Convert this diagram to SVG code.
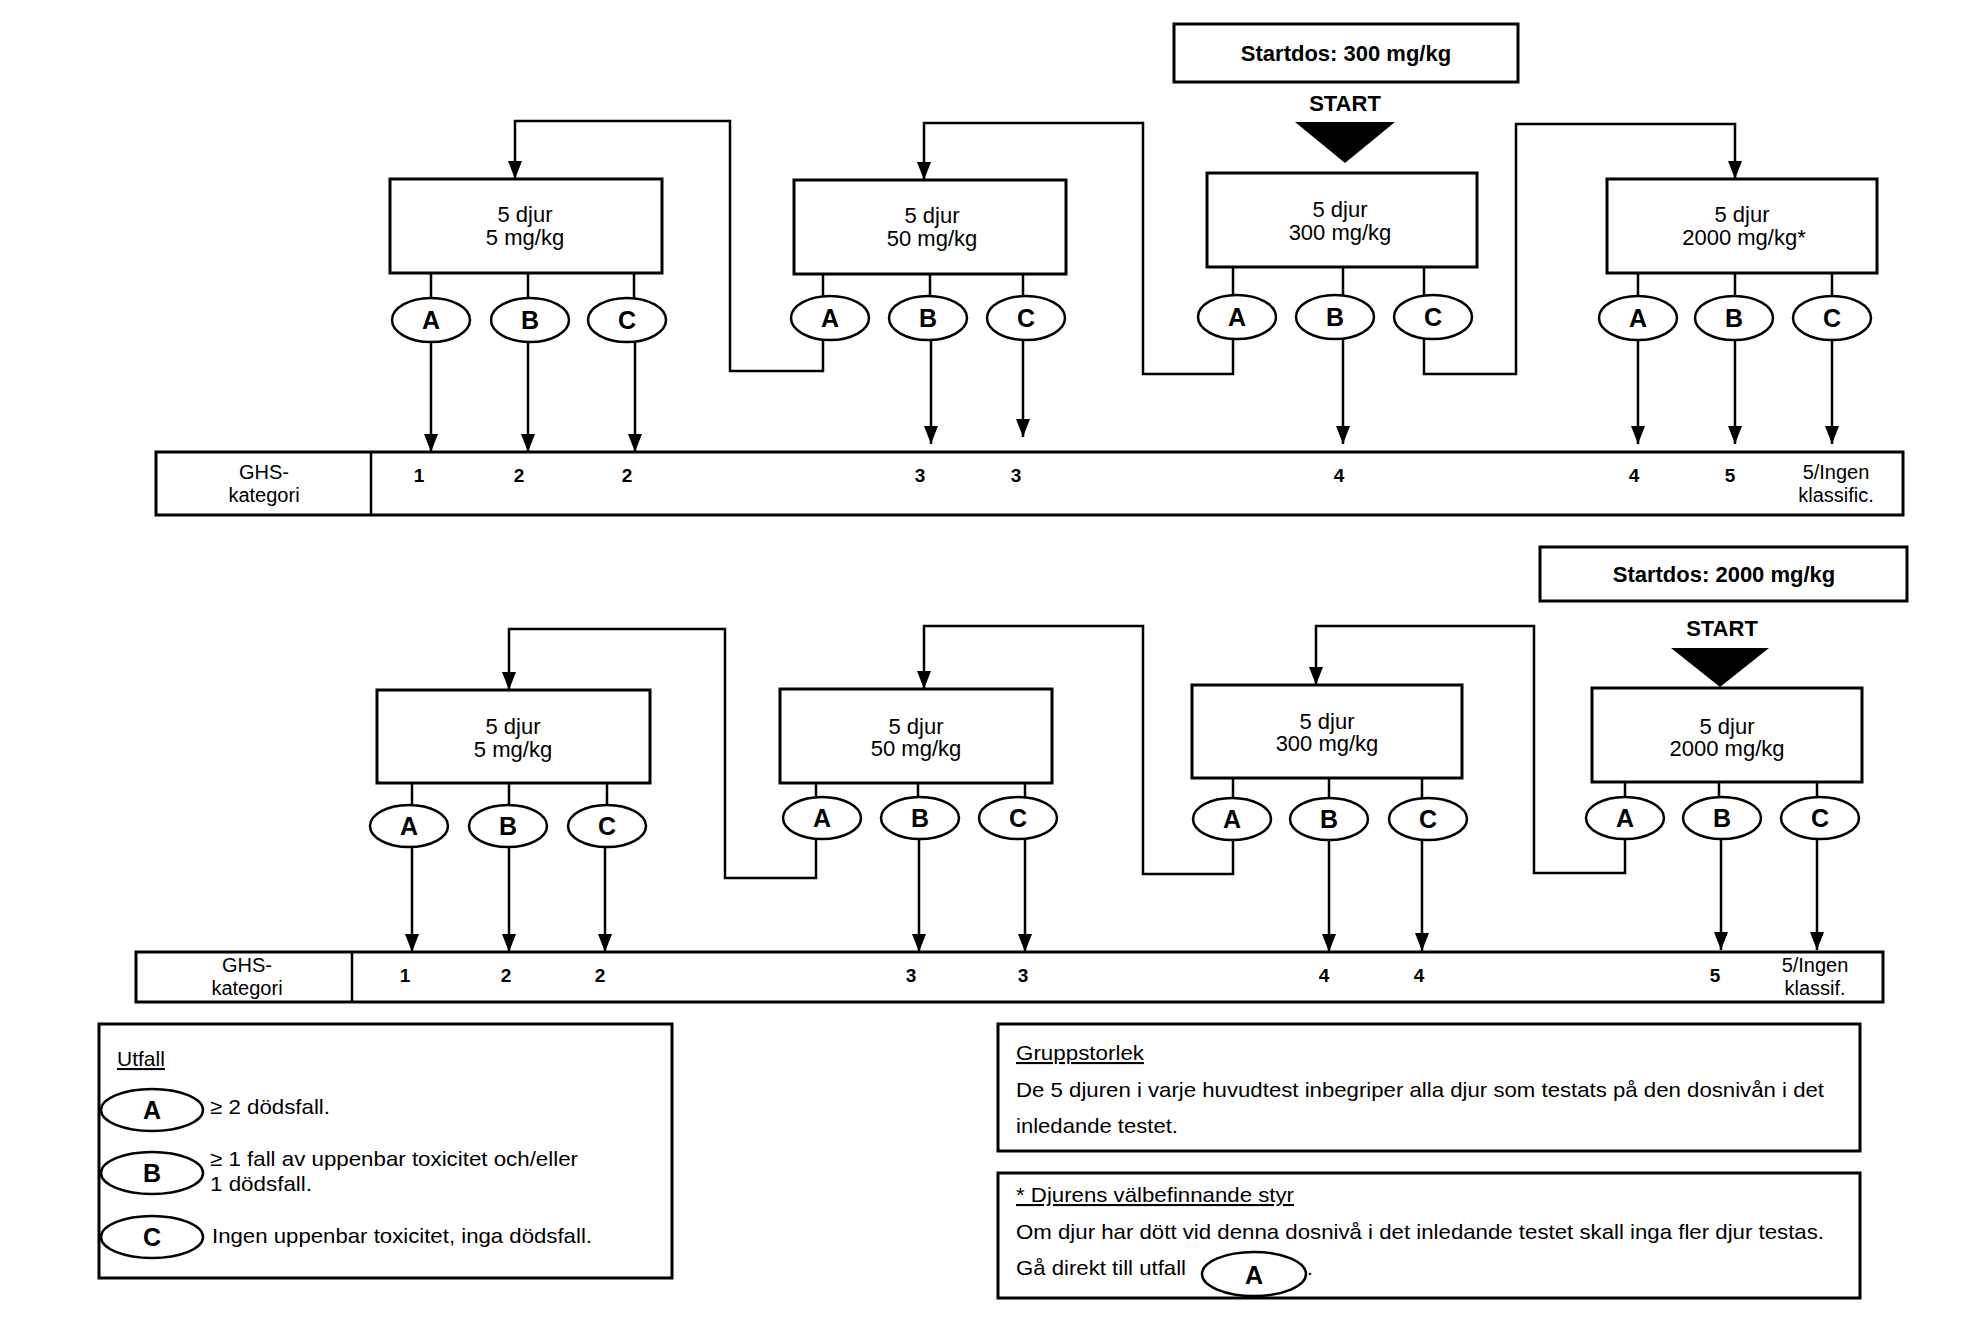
<svg xmlns="http://www.w3.org/2000/svg" width="1969" height="1323" viewBox="0 0 1969 1323">
<style>
.box{fill:#fff;stroke:#000;stroke-width:3}
.ell{fill:#fff;stroke:#000;stroke-width:2.5}
.ln{fill:none;stroke:#000;stroke-width:2.5}
.t{font-family:"Liberation Sans",Arial,sans-serif;font-size:22px;fill:#000;text-anchor:middle}
.s{font-size:20px}
.lt{font-family:"Liberation Sans",Arial,sans-serif;font-size:21px;fill:#000}
.b{font-weight:bold}
.num{font-family:"Liberation Sans",Arial,sans-serif;font-size:19px;font-weight:bold;fill:#000;text-anchor:middle}
.let{font-family:"Liberation Sans",Arial,sans-serif;font-size:25px;font-weight:bold;fill:#000;text-anchor:middle}
</style>
<defs>
<marker id="ah" viewBox="0 0 18 14" refX="18" refY="7" markerWidth="18" markerHeight="14" markerUnits="userSpaceOnUse" orient="auto">
<path d="M0,0 L18,7 L0,14 z" fill="#000"/>
</marker>
</defs>
<rect width="1969" height="1323" fill="#fff"/>

<!-- ===== TOP SECTION ===== -->
<g id="startdos300">
<rect class="box" x="1174" y="24" width="344" height="58"/>
<text class="t b" x="1346" y="61">Startdos: 300 mg/kg</text>
</g>
<g id="start1">
<text class="t b" x="1345" y="111" font-size="21">START</text>
<polygon points="1295,122 1395,122 1345,163" fill="#000"/>
</g>

<g id="connectors-top">
<path class="ln" d="M431,273V298 M528,273V298 M634,273V298"/>
<path class="ln" d="M823,274V296 M930,274V296 M1023,274V296"/>
<path class="ln" d="M1233,267V295 M1343,267V295 M1424,267V295"/>
<path class="ln" d="M1638,273V296 M1735,273V296 M1832,273V296"/>
<path class="ln" d="M431,342V452" marker-end="url(#ah)"/>
<path class="ln" d="M528,342V452" marker-end="url(#ah)"/>
<path class="ln" d="M635,342V452" marker-end="url(#ah)"/>
<path class="ln" d="M931,340V444" marker-end="url(#ah)"/>
<path class="ln" d="M1023,340V437" marker-end="url(#ah)"/>
<path class="ln" d="M1343,339V444" marker-end="url(#ah)"/>
<path class="ln" d="M1638,340V444" marker-end="url(#ah)"/>
<path class="ln" d="M1735,340V444" marker-end="url(#ah)"/>
<path class="ln" d="M1832,340V444" marker-end="url(#ah)"/>
<path class="ln" d="M823,340V371H730V121H515V179" marker-end="url(#ah)"/>
<path class="ln" d="M1233,339V374H1143V123H924V180" marker-end="url(#ah)"/>
<path class="ln" d="M1424,339V374H1516V124H1735V179" marker-end="url(#ah)"/>
</g>

<g id="box-t5">
<rect class="box" x="390" y="179" width="272" height="94"/>
<text class="t" x="525" y="222">5 djur</text>
<text class="t" x="525" y="245">5 mg/kg</text>
</g>
<g id="box-t50">
<rect class="box" x="794" y="180" width="272" height="94"/>
<text class="t" x="932" y="223">5 djur</text>
<text class="t" x="932" y="246">50 mg/kg</text>
</g>
<g id="box-t300">
<rect class="box" x="1207" y="173" width="270" height="94"/>
<text class="t" x="1340" y="217">5 djur</text>
<text class="t" x="1340" y="240">300 mg/kg</text>
</g>
<g id="box-t2000">
<rect class="box" x="1607" y="179" width="270" height="94"/>
<text class="t" x="1742" y="222">5 djur</text>
<text class="t" x="1744" y="245">2000 mg/kg*</text>
</g>

<g id="ell-top">
<ellipse class="ell" cx="431" cy="320" rx="39" ry="22"/><text class="let" x="431" y="329">A</text>
<ellipse class="ell" cx="530" cy="320" rx="39" ry="22"/><text class="let" x="530" y="329">B</text>
<ellipse class="ell" cx="627" cy="320" rx="39" ry="22"/><text class="let" x="627" y="329">C</text>
<ellipse class="ell" cx="830" cy="318" rx="39" ry="22"/><text class="let" x="830" y="327">A</text>
<ellipse class="ell" cx="928" cy="318" rx="39" ry="22"/><text class="let" x="928" y="327">B</text>
<ellipse class="ell" cx="1026" cy="318" rx="39" ry="22"/><text class="let" x="1026" y="327">C</text>
<ellipse class="ell" cx="1237" cy="317" rx="39" ry="22"/><text class="let" x="1237" y="326">A</text>
<ellipse class="ell" cx="1335" cy="317" rx="39" ry="22"/><text class="let" x="1335" y="326">B</text>
<ellipse class="ell" cx="1433" cy="317" rx="39" ry="22"/><text class="let" x="1433" y="326">C</text>
<ellipse class="ell" cx="1638" cy="318" rx="39" ry="22"/><text class="let" x="1638" y="327">A</text>
<ellipse class="ell" cx="1734" cy="318" rx="39" ry="22"/><text class="let" x="1734" y="327">B</text>
<ellipse class="ell" cx="1832" cy="318" rx="39" ry="22"/><text class="let" x="1832" y="327">C</text>
</g>

<g id="ghs-top">
<rect class="box" x="156" y="452" width="1747" height="63"/>
<line class="ln" x1="371" y1="452" x2="371" y2="515" stroke-width="3"/>
<text class="t s" x="264" y="479">GHS-</text>
<text class="t s" x="264" y="502">kategori</text>
<text class="num" x="419" y="482">1</text>
<text class="num" x="519" y="482">2</text>
<text class="num" x="627" y="482">2</text>
<text class="num" x="920" y="482">3</text>
<text class="num" x="1016" y="482">3</text>
<text class="num" x="1339" y="482">4</text>
<text class="num" x="1634" y="482">4</text>
<text class="num" x="1730" y="482">5</text>
<text class="t s" x="1836" y="479">5/Ingen</text>
<text class="t s" x="1836" y="502">klassific.</text>
</g>

<!-- ===== BOTTOM SECTION ===== -->
<g id="startdos2000">
<rect class="box" x="1540" y="547" width="367" height="54"/>
<text class="t b" x="1724" y="582">Startdos: 2000 mg/kg</text>
</g>
<g id="start2">
<text class="t b" x="1722" y="636" font-size="21">START</text>
<polygon points="1671,648 1769,648 1720,687" fill="#000"/>
</g>

<g id="connectors-bottom">
<path class="ln" d="M412,783V805 M509,783V805 M607,783V805"/>
<path class="ln" d="M816,783V797 M918,783V797 M1025,783V797"/>
<path class="ln" d="M1233,778V798 M1329,778V798 M1422,778V798"/>
<path class="ln" d="M1625,782V797 M1719,782V797 M1817,782V797"/>
<path class="ln" d="M412,848V952" marker-end="url(#ah)"/>
<path class="ln" d="M509,848V952" marker-end="url(#ah)"/>
<path class="ln" d="M605,848V952" marker-end="url(#ah)"/>
<path class="ln" d="M919,840V952" marker-end="url(#ah)"/>
<path class="ln" d="M1025,840V952" marker-end="url(#ah)"/>
<path class="ln" d="M1329,841V952" marker-end="url(#ah)"/>
<path class="ln" d="M1422,841V951" marker-end="url(#ah)"/>
<path class="ln" d="M1721,840V950" marker-end="url(#ah)"/>
<path class="ln" d="M1817,840V950" marker-end="url(#ah)"/>
<path class="ln" d="M816,840V878H725V629H509V690" marker-end="url(#ah)"/>
<path class="ln" d="M1233,841V874H1143V626H924V689" marker-end="url(#ah)"/>
<path class="ln" d="M1625,840V873H1534V626H1316V685" marker-end="url(#ah)"/>
</g>

<g id="box-b5">
<rect class="box" x="377" y="690" width="273" height="93"/>
<text class="t" x="513" y="734">5 djur</text>
<text class="t" x="513" y="757">5 mg/kg</text>
</g>
<g id="box-b50">
<rect class="box" x="780" y="689" width="272" height="94"/>
<text class="t" x="916" y="734">5 djur</text>
<text class="t" x="916" y="756">50 mg/kg</text>
</g>
<g id="box-b300">
<rect class="box" x="1192" y="685" width="270" height="93"/>
<text class="t" x="1327" y="729">5 djur</text>
<text class="t" x="1327" y="751">300 mg/kg</text>
</g>
<g id="box-b2000">
<rect class="box" x="1592" y="688" width="270" height="94"/>
<text class="t" x="1727" y="734">5 djur</text>
<text class="t" x="1727" y="756">2000 mg/kg</text>
</g>

<g id="ell-bottom">
<ellipse class="ell" cx="409" cy="826" rx="39" ry="21"/><text class="let" x="409" y="835">A</text>
<ellipse class="ell" cx="508" cy="826" rx="39" ry="21"/><text class="let" x="508" y="835">B</text>
<ellipse class="ell" cx="607" cy="826" rx="39" ry="21"/><text class="let" x="607" y="835">C</text>
<ellipse class="ell" cx="822" cy="818" rx="39" ry="21"/><text class="let" x="822" y="827">A</text>
<ellipse class="ell" cx="920" cy="818" rx="39" ry="21"/><text class="let" x="920" y="827">B</text>
<ellipse class="ell" cx="1018" cy="818" rx="39" ry="21"/><text class="let" x="1018" y="827">C</text>
<ellipse class="ell" cx="1232" cy="819" rx="39" ry="21"/><text class="let" x="1232" y="828">A</text>
<ellipse class="ell" cx="1329" cy="819" rx="39" ry="21"/><text class="let" x="1329" y="828">B</text>
<ellipse class="ell" cx="1428" cy="819" rx="39" ry="21"/><text class="let" x="1428" y="828">C</text>
<ellipse class="ell" cx="1625" cy="818" rx="39" ry="21"/><text class="let" x="1625" y="827">A</text>
<ellipse class="ell" cx="1722" cy="818" rx="39" ry="21"/><text class="let" x="1722" y="827">B</text>
<ellipse class="ell" cx="1820" cy="818" rx="39" ry="21"/><text class="let" x="1820" y="827">C</text>
</g>

<g id="ghs-bottom">
<rect class="box" x="136" y="952" width="1747" height="50"/>
<line class="ln" x1="352" y1="952" x2="352" y2="1002" stroke-width="3"/>
<text class="t s" x="247" y="972">GHS-</text>
<text class="t s" x="247" y="995">kategori</text>
<text class="num" x="405" y="982">1</text>
<text class="num" x="506" y="982">2</text>
<text class="num" x="600" y="982">2</text>
<text class="num" x="911" y="982">3</text>
<text class="num" x="1023" y="982">3</text>
<text class="num" x="1324" y="982">4</text>
<text class="num" x="1419" y="982">4</text>
<text class="num" x="1715" y="982">5</text>
<text class="t s" x="1815" y="972">5/Ingen</text>
<text class="t s" x="1815" y="995">klassif.</text>
</g>

<!-- ===== LEGENDS ===== -->
<g id="legend-utfall">
<rect class="box" x="99" y="1024" width="573" height="254"/>
<text class="lt" x="117" y="1066" text-decoration="underline">Utfall</text>
<ellipse class="ell" cx="152" cy="1110" rx="51" ry="21"/><text class="let" x="152" y="1119">A</text>
<text class="lt" x="210" y="1114" textLength="120" lengthAdjust="spacingAndGlyphs">≥ 2 dödsfall.</text>
<ellipse class="ell" cx="152" cy="1173" rx="51" ry="21"/><text class="let" x="152" y="1182">B</text>
<text class="lt" x="210" y="1166" textLength="368" lengthAdjust="spacingAndGlyphs">≥ 1 fall av uppenbar toxicitet och/eller</text>
<text class="lt" x="210" y="1191" textLength="102" lengthAdjust="spacingAndGlyphs">1 dödsfall.</text>
<ellipse class="ell" cx="152" cy="1237" rx="51" ry="21"/><text class="let" x="152" y="1246">C</text>
<text class="lt" x="212" y="1243" textLength="380" lengthAdjust="spacingAndGlyphs">Ingen uppenbar toxicitet, inga dödsfall.</text>
</g>

<g id="legend-gruppstorlek">
<rect class="box" x="998" y="1024" width="862" height="127"/>
<text class="lt" x="1016" y="1060" text-decoration="underline" textLength="128" lengthAdjust="spacingAndGlyphs">Gruppstorlek</text>
<text class="lt" x="1016" y="1097" textLength="808" lengthAdjust="spacingAndGlyphs">De 5 djuren i varje huvudtest inbegriper alla djur som testats på den dosnivån i det</text>
<text class="lt" x="1016" y="1133" textLength="162" lengthAdjust="spacingAndGlyphs">inledande testet.</text>
</g>

<g id="legend-djurens">
<rect class="box" x="998" y="1173" width="862" height="125"/>
<text class="lt" x="1016" y="1202" text-decoration="underline" textLength="278" lengthAdjust="spacingAndGlyphs">* Djurens välbefinnande styr</text>
<text class="lt" x="1016" y="1239" textLength="808" lengthAdjust="spacingAndGlyphs">Om djur har dött vid denna dosnivå i det inledande testet skall inga fler djur testas.</text>
<text class="lt" x="1016" y="1275" textLength="170" lengthAdjust="spacingAndGlyphs">Gå direkt till utfall</text>
<ellipse class="ell" cx="1254" cy="1274" rx="52" ry="22"/><text class="let" x="1254" y="1284">A</text>
<text class="lt" x="1307" y="1275">.</text>
</g>
</svg>
